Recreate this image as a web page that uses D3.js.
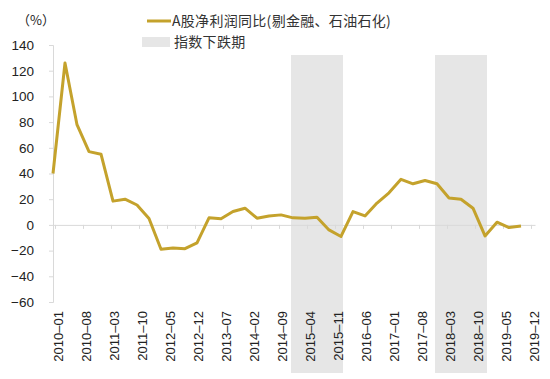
<!DOCTYPE html>
<html>
<head>
<meta charset="utf-8">
<script src="https://cdn.jsdelivr.net/npm/d3@7"></script>
<style>
  body { margin: 0; background: #fff; }
  svg { display: block; font-family: "Liberation Sans", Arial, sans-serif; }
</style>
</head>
<body>
<div id="chart"></div>
<script>
// quarterly dates and values (%)
const dates = [
  "2009-12", "2010-03", "2010-06", "2010-09", "2010-12",
  "2011-03", "2011-06", "2011-09", "2011-12",
  "2012-03", "2012-06", "2012-09", "2012-12",
  "2013-03", "2013-06", "2013-09", "2013-12",
  "2014-03", "2014-06", "2014-09", "2014-12",
  "2015-03", "2015-06", "2015-09", "2015-12",
  "2016-03", "2016-06", "2016-09", "2016-12",
  "2017-03", "2017-06", "2017-09", "2017-12",
  "2018-03", "2018-06", "2018-09", "2018-12",
  "2019-03", "2019-06", "2019-09"
];
const profitYoY = [
  40, 126, 78, 57, 55,
  18.5, 20, 15.5, 5,
  -19, -18, -18.5, -14,
  5.5, 4.8, 10.4, 13,
  5.2, 7, 7.8, 5.5,
  5.2, 6, -3.9, -9,
  10.4, 7, 17, 25,
  35.5, 32, 34.5, 32,
  21, 20, 13, -8.6,
  2.1, -2.1, -0.8
];
// index-decline periods (first month, last month)
const declinePeriods = [["2014-12", "2015-12"], ["2017-12", "2018-12"]];
const xTickLabels = ["2010-01", "2010-08", "2011-03", "2011-10", "2012-05", "2012-12",
  "2013-07", "2014-02", "2014-09", "2015-04", "2015-11", "2016-06", "2017-01",
  "2017-08", "2018-03", "2018-10", "2019-05", "2019-12"];
const yTicks = [-60, -40, -20, 0, 20, 40, 60, 80, 100, 120, 140];
const seriesName = "A股净利润同比(剔金融、石油石化)";
const bandName = "指数下跌期";

const width = 550, height = 379;
const lineColor = "#C4A22C";
const bandColor = "#e6e6e6";
const axisColor = "#d9d9d9";

// months since 2010-01
const monthIndex = s => {
  const [y, m] = s.split("-").map(Number);
  return (y - 2010) * 12 + (m - 1);
};

const svg = d3.select("#chart").append("svg")
  .attr("width", width)
  .attr("height", height);

const xScale = d3.scaleLinear().domain([-1, 119.5]).range([53, 535]);
const yScale = d3.scaleLinear().domain([-60, 140]).range([302, 45]);

// shaded periods
svg.append("g").selectAll("rect")
  .data(declinePeriods)
  .join("rect")
  .attr("x", d => xScale(monthIndex(d[0]) - 0.5))
  .attr("width", d => xScale(monthIndex(d[1]) + 0.5) - xScale(monthIndex(d[0]) - 0.5))
  .attr("y", 55)
  .attr("height", 373 - 55)
  .attr("fill", bandColor);

// y axis
const yAxisG = svg.append("g")
  .attr("transform", "translate(" + xScale(-1) + ",0)")
  .call(d3.axisLeft(yScale).tickValues(yTicks).tickSize(4).tickPadding(15));
yAxisG.select(".domain").attr("stroke", axisColor);
yAxisG.selectAll(".tick line").attr("stroke", axisColor);
yAxisG.selectAll(".tick text")
  .attr("font-size", 13.5)
  .attr("fill", "#222");

// zero line with category ticks
const tickMonths = xTickLabels.map(monthIndex);
const xAxisG = svg.append("g")
  .attr("transform", "translate(0," + yScale(0) + ")")
  .call(d3.axisBottom(xScale)
    .tickValues(tickMonths.map(m => m - 0.5))
    .tickSize(4)
    .tickSizeOuter(0)
    .tickFormat(""));
xAxisG.select(".domain").attr("stroke", axisColor);
xAxisG.selectAll(".tick line").attr("stroke", axisColor);

// x labels at the bottom, rotated
svg.append("g").selectAll("text")
  .data(xTickLabels)
  .join("text")
  .attr("transform", d => "translate(" + (xScale(monthIndex(d)) + 1) + ",311) rotate(-90)")
  .attr("text-anchor", "end")
  .attr("dy", "0.36em")
  .attr("font-size", 13)
  .attr("fill", "#222")
  .text(d => d.replace("-", "–"));

// series line
const line = d3.line()
  .x((d, i) => xScale(monthIndex(dates[i])))
  .y(d => yScale(d));

svg.append("path")
  .datum(profitYoY)
  .attr("fill", "none")
  .attr("stroke", lineColor)
  .attr("stroke-width", 3)
  .attr("stroke-linejoin", "round")
  .attr("d", line);

// unit
svg.append("text")
  .attr("x", 17)
  .attr("y", 25)
  .attr("font-size", 13)
  .attr("fill", "#222")
  .attr("font-family", "'Noto Sans CJK SC', sans-serif")
  .text("（%）");

// legend
const legend = svg.append("g")
  .attr("font-family", "'Noto Sans CJK SC', sans-serif")
  .attr("font-size", 14)
  .attr("fill", "#333");

legend.append("line")
  .attr("x1", 147).attr("x2", 171)
  .attr("y1", 21).attr("y2", 21)
  .attr("stroke", lineColor)
  .attr("stroke-width", 3);
legend.append("text")
  .attr("x", 172).attr("y", 26)
  .attr("letter-spacing", 0.3)
  .text(seriesName);

legend.append("rect")
  .attr("x", 142).attr("y", 37)
  .attr("width", 28).attr("height", 10)
  .attr("fill", bandColor);
legend.append("text")
  .attr("x", 174).attr("y", 47)
  .attr("letter-spacing", 0.3)
  .text(bandName);
</script>
</body>
</html>
